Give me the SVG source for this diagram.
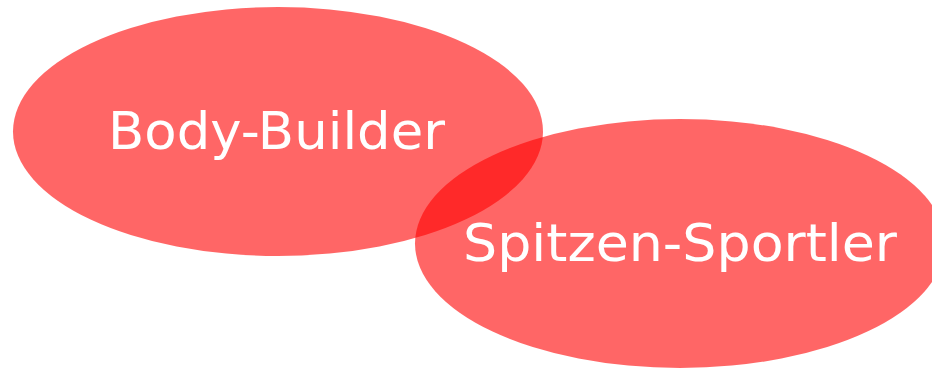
<svg xmlns="http://www.w3.org/2000/svg" width="932" height="368" viewBox="0 0 932 368">
<style>
.set{fill:#ff0000;fill-opacity:0.6;}
.lbl{font-family:"DejaVu Sans",sans-serif;font-size:51px;fill:#ffffff;text-anchor:middle;}
</style>
<rect width="932" height="368" fill="#ffffff"/>
<g id="body-builder">
<ellipse class="set" cx="278" cy="131.5" rx="265" ry="124.5"/>
<text class="lbl" x="276.5" y="149" textLength="337" lengthAdjust="spacingAndGlyphs">Body-Builder</text>
</g>
<g id="spitzen-sportler">
<ellipse class="set" cx="680" cy="243.5" rx="265" ry="124.5"/>
<text class="lbl" x="680" y="261" textLength="434" lengthAdjust="spacingAndGlyphs">Spitzen-Sportler</text>
</g>
<g id="connectors"></g>
</svg>
